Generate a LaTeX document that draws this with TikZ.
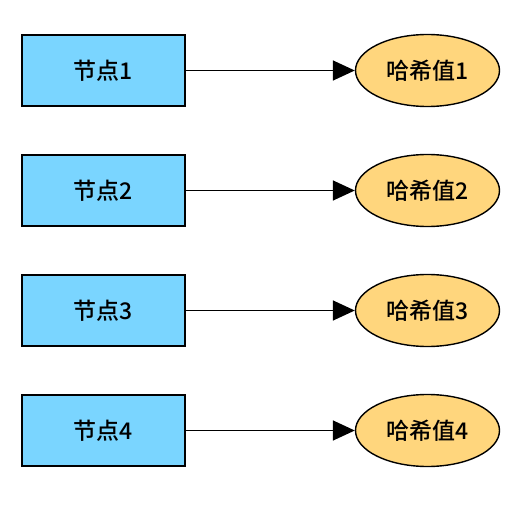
\documentclass[tikz,border=0pt]{standalone}
\usepackage{fontspec}
\setmainfont{Noto Sans CJK SC}[UprightFont=* Medium]
\usepackage{tikz}
\usetikzlibrary{shapes}
\usetikzlibrary{positioning}
\usetikzlibrary{arrows.meta}
\usepackage{xcolor}
\definecolor{nodeblue}{RGB}{122,213,255}
\definecolor{hashgold}{RGB}{255,214,125}
\tikzset{
  knoten/.style={draw,line width=1.6pt,fill=nodeblue,minimum width=163pt,minimum height=71pt,inner sep=0pt,font=\fontsize{23}{26}\selectfont},
  hashval/.style={draw,ellipse,line width=1.4pt,fill=hashgold,minimum width=144pt,minimum height=72pt,inner sep=0pt,font=\fontsize{23}{26}\selectfont},
  pfeil/.style={line width=1.6pt,-{Triangle[length=22pt,width=20pt]}}
}

\begin{document}
\begin{tikzpicture}[x=1pt,y=-1pt]
\useasboundingbox (0,0) rectangle (528,508);
\node[knoten] (n1) at (103.5,70.5) {节点1};
\node[knoten] (n2) at (103.5,190.5) {节点2};
\node[knoten] (n3) at (103.5,310.5) {节点3};
\node[knoten] (n4) at (103.5,430.5) {节点4};
\node[hashval,right=169pt of n1] (h1) {哈希值1};
\node[hashval,right=169pt of n2] (h2) {哈希值2};
\node[hashval,right=169pt of n3] (h3) {哈希值3};
\node[hashval,right=169pt of n4] (h4) {哈希值4};
\draw[pfeil] (n1) -- (h1);
\draw[pfeil] (n2) -- (h2);
\draw[pfeil] (n3) -- (h3);
\draw[pfeil] (n4) -- (h4);
\end{tikzpicture}
\end{document}
